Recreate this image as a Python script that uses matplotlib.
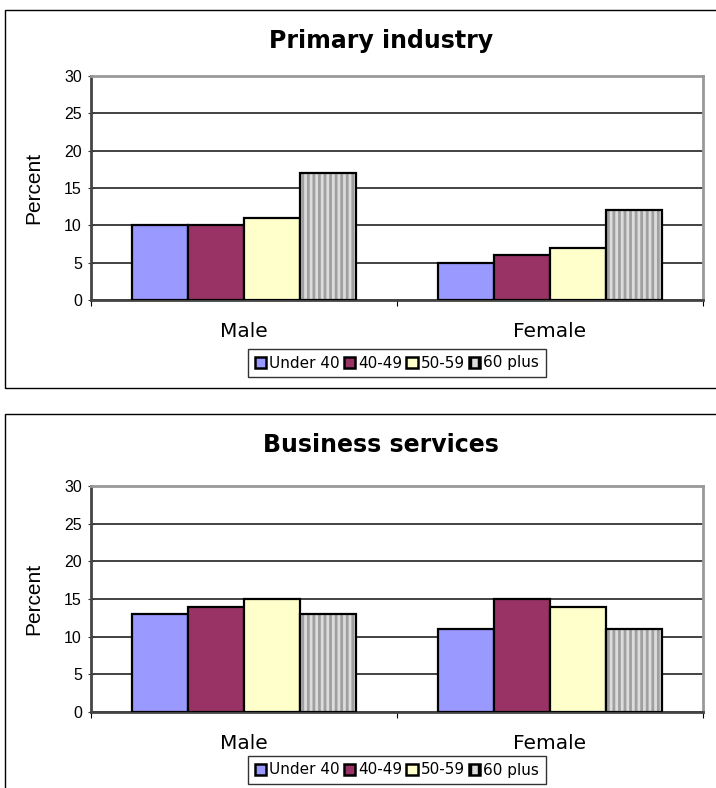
import matplotlib.pyplot as plt
import matplotlib.patches as mpatches
import numpy as np

# data
genders = ['Male', 'Female']
age_groups = ['Under 40', '40-49', '50-59', '60 plus']
primary = {
    'Under 40': [10, 5],
    '40-49': [10, 6],
    '50-59': [11, 7],
    '60 plus': [17, 12],
}
business = {
    'Under 40': [13, 11],
    '40-49': [14, 15],
    '50-59': [15, 14],
    '60 plus': [13, 11],
}
colors = ['#9999FF', '#993366', '#FFFFCC', '#DCDCDC']

W, H = 716, 788
plt.rcParams['hatch.linewidth'] = 2.0
plt.rcParams['hatch.color'] = '#A0A0A0'

fig = plt.figure(figsize=(W / 100, H / 100), dpi=100)


def px_rect(x0, y0, x1, y1):
    # pixel box (top-left origin) -> figure fraction [l, b, w, h]
    return [x0 / W, 1 - y1 / H, (x1 - x0) / W, (y1 - y0) / H]


def panel(frame, ax_box, title, title_y, data, legend_y):
    l, b, w, h = px_rect(*frame)
    fig.patches.append(mpatches.Rectangle((l, b), w, h, transform=fig.transFigure,
                                          fill=False, edgecolor='black', linewidth=1))
    ax = fig.add_axes(px_rect(*ax_box))
    bw = 56 / 306
    x = np.arange(len(genders)) + 0.5
    for i, g in enumerate(age_groups):
        pos = x + (i - 1.5) * bw
        if g == '60 plus':
            ax.bar(pos, data[g], bw, color=colors[i], hatch='|||', edgecolor='#A0A0A0',
                   linewidth=0, zorder=3)
            ax.bar(pos, data[g], bw, fill=False, edgecolor='black', linewidth=1.6, zorder=4)
        else:
            ax.bar(pos, data[g], bw, color=colors[i], edgecolor='black', linewidth=1.6, zorder=3)
    ax.set_xlim(0, 2)
    ax.set_ylim(0, 30)
    ax.set_yticks(range(0, 31, 5))
    ax.yaxis.grid(True, color='#222222', linewidth=1.2, zorder=0)
    ax.set_axisbelow(True)
    ax.set_xticks([0, 1, 2])
    ax.set_xticklabels([])
    ax.set_xticks(x, minor=True)
    ax.set_xticklabels(genders, minor=True, fontsize=14.5, fontfamily='DejaVu Sans')
    ax.tick_params(axis='x', which='minor', length=0, pad=16)
    ax.tick_params(axis='x', which='major', length=4, direction='out', color='black')
    ax.tick_params(axis='y', length=5, direction='inout', labelsize=11.5, pad=4, color='#333333')
    for t in ax.get_yticklabels():
        t.set_fontfamily('Liberation Sans')
    for s in ['top', 'right']:
        ax.spines[s].set_color('#999999')
        ax.spines[s].set_linewidth(2)
    for s in ['left', 'bottom']:
        ax.spines[s].set_color('#444444')
        ax.spines[s].set_linewidth(2)
    ax.set_ylabel('Percent', fontsize=15, fontfamily='Liberation Sans')
    ax.yaxis.set_label_coords(-48 / 612, 0.5)
    fig.text(381 / W, 1 - title_y / H, title, ha='center', va='center',
             fontsize=17, fontweight='bold', fontfamily='DejaVu Sans')
    handles = [mpatches.Patch(facecolor=colors[i], edgecolor='black', linewidth=1.8,
                              hatch='||' if age_groups[i] == '60 plus' else None)
               for i in range(len(age_groups))]
    leg = fig.legend(handles, age_groups, loc='center', ncol=4,
                     bbox_to_anchor=(397 / W, 1 - legend_y / H),
                     frameon=True, fancybox=False, edgecolor='#333333', framealpha=1,
                     prop={'family': 'DejaVu Sans', 'size': 11},
                     handlelength=0.75, handleheight=0.75, handletextpad=0.2,
                     columnspacing=0.25, borderpad=0.45, borderaxespad=0)
    leg.get_frame().set_linewidth(1)
    return ax


panel((5, 10, 730, 388), (91, 76, 703, 300), 'Primary industry', 41, primary, 363)
panel((5, 414, 730, 800), (91, 486, 703, 712), 'Business services', 445, business, 770)

fig.savefig('out.png', dpi=100)
